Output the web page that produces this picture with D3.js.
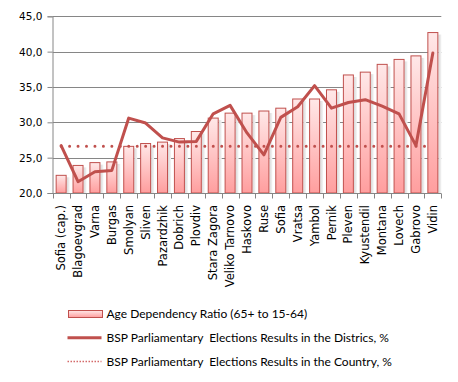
<!DOCTYPE html>
<html>
<head>
<meta charset="utf-8">
<script src="https://cdn.jsdelivr.net/npm/d3@7"></script>
<style>
  html, body { margin: 0; padding: 0; background: #fff; }
  svg { display: block; }
  text { white-space: pre; }
</style>
</head>
<body>
<svg id="chart" width="458" height="382"></svg>
<script>
const categories = ["Sofia (cap.)", "Blagoevgrad", "Varna", "Burgas", "Smolyan", "Sliven", "Pazardzhik", "Dobrich", "Plovdiv", "Stara Zagora", "Veliko Tarnovo", "Haskovo", "Ruse", "Sofia", "Vratsa", "Yambol", "Pernik", "Pleven", "Kyustendil", "Montana", "Lovech", "Gabrovo", "Vidin"];
const ageDependency = [22.5, 23.9, 24.3, 24.4, 26.6, 27.0, 27.2, 27.7, 28.7, 30.6, 31.3, 31.3, 31.6, 32.0, 33.3, 33.3, 34.6, 36.7, 37.1, 38.2, 38.9, 39.4, 42.7];
const bspDistricts = [26.7, 21.6, 23.0, 23.2, 30.6, 29.9, 27.8, 27.2, 27.3, 31.2, 32.4, 28.5, 25.4, 30.7, 32.2, 35.2, 32.0, 32.8, 33.2, 32.3, 31.2, 26.7, 39.8];
const bspCountry = 26.6;
const yTicks = [20, 25, 30, 35, 40, 45];
const legendLabels = ["Age Dependency Ratio (65+ to 15-64)", "BSP Parliamentary  Elections Results in the Districs, %", "BSP Parliamentary  Elections Results in the Country, %"];

const red = "#c0504d";
const svg = d3.select("#chart");
const defs = svg.append("defs");
const grad = defs.append("linearGradient").attr("id", "barGrad").attr("x1", 0).attr("y1", 0).attr("x2", 0).attr("y2", 1);
grad.append("stop").attr("offset", "0%").attr("stop-color", "#ffe8e8");
grad.append("stop").attr("offset", "100%").attr("stop-color", "#ff9e9e");
const sh = defs.append("linearGradient").attr("id", "shadowGrad").attr("x1", 0).attr("y1", 0).attr("x2", 1).attr("y2", 0);
sh.append("stop").attr("offset", "0%").attr("stop-color", "#d8d8d8");
sh.append("stop").attr("offset", "100%").attr("stop-color", "#f4f4f4");

const x = d3.scaleBand().domain(categories).range([52.7, 441.3]).paddingInner(0.35).paddingOuter(0.175);
const xb = d3.scaleBand().domain(categories).range([52.7, 441.3]);
const y = d3.scaleLinear().domain([20, 45]).range([193, 16.3]);

// gridlines
svg.append("g").selectAll("line").data(yTicks.filter(d => d > 20)).join("line")
  .attr("x1", 52.7).attr("x2", 441.3)
  .attr("y1", d => Math.round(y(d)) + 0.5).attr("y2", d => Math.round(y(d)) + 0.5)
  .attr("stroke", "#868686").attr("stroke-width", 1);

// bar shadows
svg.append("g").selectAll("rect").data(categories).join("rect")
  .attr("x", d => x(d) + x.bandwidth())
  .attr("y", (d, i) => y(ageDependency[i]) + 2)
  .attr("width", 3)
  .attr("height", (d, i) => y(20) - y(ageDependency[i]) - 2)
  .attr("fill", "url(#shadowGrad)");

// bars
svg.append("g").selectAll("rect").data(categories).join("rect")
  .attr("x", d => x(d) + 0.5)
  .attr("y", (d, i) => y(ageDependency[i]))
  .attr("width", x.bandwidth() - 1)
  .attr("height", (d, i) => y(20) - y(ageDependency[i]))
  .attr("fill", "url(#barGrad)")
  .attr("stroke", red).attr("stroke-width", 1);

// axes
const yAxis = d3.axisLeft(y).tickValues(yTicks).tickSize(5).tickPadding(5)
  .tickFormat(d => d3.format(".1f")(d).replace(".", ","));
const gy = svg.append("g").attr("transform", "translate(52.5,0)").call(yAxis);
gy.select(".domain").attr("stroke", "#868686");
gy.selectAll(".tick line").attr("stroke", "#868686");
gy.selectAll("text").attr("font-family", "DejaVu Sans").attr("font-size", 10.5).attr("fill", "#000");

const gx = svg.append("g").attr("transform", `translate(0,${Math.round(y(20)) + 0.5})`);
gx.append("line").attr("x1", 52.7).attr("x2", 441.3).attr("stroke", "#868686");
gx.selectAll("line.tk").data(categories.concat(["__end"])).join("line").attr("class", "tk")
  .attr("x1", (d, i) => Math.round(i < categories.length ? xb(d) : xb.range()[1]) + 0.5)
  .attr("x2", (d, i) => Math.round(i < categories.length ? xb(d) : xb.range()[1]) + 0.5)
  .attr("y1", 0).attr("y2", 5).attr("stroke", "#868686");
gx.selectAll("text").data(categories).join("text")
  .attr("transform", d => `translate(${xb(d) + xb.bandwidth() / 2},11.5) rotate(-90)`)
  .attr("text-anchor", "end").attr("dy", "0.35em")
  .attr("font-family", "DejaVu Sans").attr("font-size", 11.5).attr("fill", "#000")
  .text(d => d);

// country dotted line
const cx = d => xb(d) + xb.bandwidth() / 2;
svg.append("line")
  .attr("x1", cx(categories[0])).attr("x2", cx(categories[categories.length - 1]))
  .attr("y1", y(bspCountry)).attr("y2", y(bspCountry))
  .attr("stroke", red).attr("stroke-width", 3)
  .attr("stroke-linecap", "round").attr("stroke-dasharray", "0,8.45");

// districts line
const line = d3.line().x((d, i) => cx(categories[i])).y(d => y(d));
svg.append("path").datum(bspDistricts).attr("d", line)
  .attr("fill", "none").attr("stroke", red).attr("stroke-width", 3)
  .attr("stroke-linejoin", "round").attr("stroke-linecap", "round");

// legend
const lg = svg.append("g").attr("font-family", "Lato").attr("font-size", 12).attr("fill", "#000");
const ly = [314, 337.7, 361.5];
lg.append("rect").attr("x", 68.5).attr("y", ly[0] - 3.5).attr("width", 34).attr("height", 7)
  .attr("fill", "url(#barGrad)").attr("stroke", red);
lg.append("line").attr("x1", 67.5).attr("x2", 101.5).attr("y1", ly[1]).attr("y2", ly[1])
  .attr("stroke", red).attr("stroke-width", 3);
lg.append("line").attr("x1", 67.5).attr("x2", 101.5).attr("y1", ly[2]).attr("y2", ly[2])
  .attr("stroke", "#d46a6a").attr("stroke-width", 1.5).attr("stroke-dasharray", "1.5,1.5");
lg.selectAll("text").data(legendLabels).join("text")
  .attr("x", 106.5).attr("y", (d, i) => ly[i]).attr("dy", "0.35em")
  .text(d => d);
</script>
</body>
</html>
